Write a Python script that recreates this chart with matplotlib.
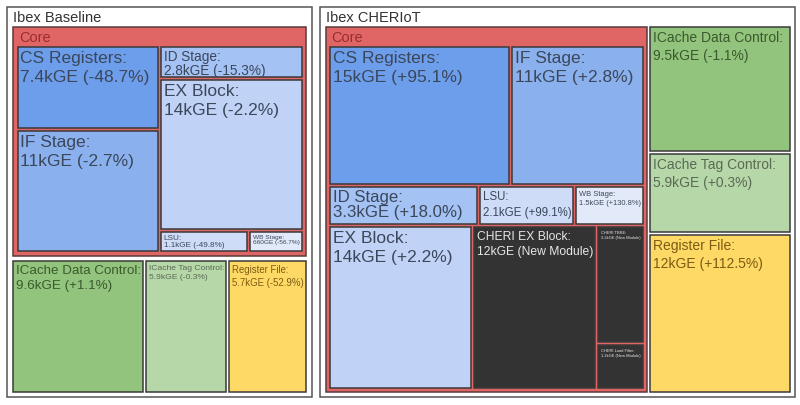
import matplotlib
matplotlib.use("Agg")
from matplotlib import pyplot as plt
from matplotlib.patches import Rectangle

plt.rcParams['font.family'] = ['Liberation Sans', 'DejaVu Sans']

# --- data (area in kGE, change vs. other design) ---
designs = ["Ibex Baseline", "Ibex CHERIoT"]

base_core_labels = ["CS Registers", "IF Stage", "ID Stage", "EX Block", "LSU", "WB Stage"]
base_core_values = [7.4, 11, 2.8, 14, 1.1, 0.66]
base_core_change = ["-48.7%", "-2.7%", "-15.3%", "-2.2%", "-49.8%", "-56.7%"]
base_other_labels = ["ICache Data Control", "ICache Tag Control", "Register File"]
base_other_values = [9.6, 5.9, 5.7]
base_other_change = ["+1.1%", "-0.3%", "-52.9%"]

cheri_core_labels = ["CS Registers", "IF Stage", "ID Stage", "LSU", "WB Stage",
                     "EX Block", "CHERI EX Block", "CHERI TBRE", "CHERI Load Filter"]
cheri_core_values = [15, 11, 3.3, 2.1, 1.5, 14, 12, 3.2, 1.2]
cheri_core_change = ["+95.1%", "+2.8%", "+18.0%", "+99.1%", "+130.8%", "+2.2%",
                     "New Module", "New Module", "New Module"]
cheri_other_labels = ["ICache Data Control", "ICache Tag Control", "Register File"]
cheri_other_values = [9.5, 5.9, 12]
cheri_other_change = ["-1.1%", "+0.3%", "+112.5%"]

# colours per module: (fill, text)
colors = {
    "CS Registers": ("#6d9eeb", "#3b475a"),
    "IF Stage": ("#8ab0ee", "#3b475a"),
    "ID Stage": ("#a4c2f4", "#3b475a"),
    "EX Block": ("#c0d3f6", "#3b475a"),
    "LSU": ("#cfdcf7", "#3b475a"),
    "WB Stage": ("#e2e9f9", "#3b475a"),
    "CHERI EX Block": ("#333333", "#e6e6e6"),
    "CHERI TBRE": ("#333333", "#e6e6e6"),
    "CHERI Load Filter": ("#333333", "#e6e6e6"),
    "ICache Data Control": ("#93c47d", "#3a5a2c"),
    "ICache Tag Control": ("#b6d7a8", "#5a6a55"),
    "Register File": ("#ffd966", "#7a5c12"),
}


def fmt_area(v):
    if v < 1:
        return "%.0fGE" % (v * 1000)
    if v < 10:
        return "%.1fkGE" % v
    return "%.0fkGE" % v


fig = plt.figure(figsize=(8, 4.06), dpi=100)
ax = fig.add_axes([0, 0, 1, 1])
ax.set_xlim(0, 800)
ax.set_ylim(406, 0)
ax.axis("off")
renderer = fig.canvas.get_renderer()


def node_value(node, values):
    if isinstance(node, int):
        return values[node]
    return sum(node_value(c, values) for c in node[1])


def layout(node, values, x, y, w, h, gap, out):
    # slice-and-dice layout, sizes proportional to the values
    if isinstance(node, int):
        out.append((node, x, y, w, h))
        return
    direction, children = node
    total = sum(node_value(c, values) for c in children)
    span = (w if direction == "h" else h) - gap * (len(children) - 1)
    pos = x if direction == "h" else y
    for c in children:
        size = span * node_value(c, values) / total
        if direction == "h":
            layout(c, values, pos, y, size, h, gap, out)
        else:
            layout(c, values, x, pos, w, size, gap, out)
        pos += size + gap


def fit_label(x, y, w, h, text, color, max_fs):
    t = ax.text(x + 3, y + 3, text, fontsize=10, color=color, va="top", ha="left",
                linespacing=1.35)
    bb = t.get_window_extent(renderer)
    fs = min(max_fs, 10 * (w - 5) / bb.width)
    if 10 * (h - 4) / bb.height < fs:
        # tight box: pack the two lines closer
        t.set_linespacing(1.05)
        t.set_y(y + 1.5)
        bb = t.get_window_extent(renderer)
        fs = min(fs, 10 * (h - 2) / bb.height)
    t.set_fontsize(fs)


def draw_leaves(rects, labels, values, changes, max_fs):
    for i, x, y, w, h in rects:
        fc, tc = colors[labels[i]]
        ax.add_patch(Rectangle((x, y), w, h, facecolor=fc, edgecolor="#3a3a3a", lw=1.1))
        fit_label(x, y, w, h, "%s:\n%s (%s)" % (labels[i], fmt_area(values[i]), changes[i]),
                  tc, max_fs)


def draw_core(x, y, w, h, core_layout, labels, values, changes):
    ax.add_patch(Rectangle((x, y), w, h, facecolor="#e06666", edgecolor="#5a3a3a", lw=1.1))
    ax.text(x + 6, y + 10, "Core", fontsize=10.5, color="#9a2e2e", va="center", ha="left")
    rects = []
    layout(core_layout, values, x + 4.5, y + 20, w - 9, h - 24.5, 3, rects)
    draw_leaves(rects, labels, values, changes, 12.5)


base_core_layout = ("h", [("v", [0, 1]), ("v", [2, 3, ("h", [4, 5])])])
cheri_core_layout = ("v", [("h", [0, 1]), ("h", [2, 3, 4]), ("h", [5, 6, ("v", [7, 8])])])

base_total = sum(base_core_values) + sum(base_other_values)
cheri_total = sum(cheri_core_values) + sum(cheri_other_values)

# split the figure between the two designs
left, top, right, bottom, dgap = 7, 8, 795, 398, 8
span = right - left - dgap
base_w = span * base_total / (base_total + cheri_total)
design_boxes = [(left, base_w), (left + base_w + dgap, span - base_w)]

for name, (dx, dw) in zip(designs, design_boxes):
    ax.add_patch(Rectangle((dx, top), dw, bottom - top, facecolor="white", edgecolor="#555555", lw=1.1))
    ax.text(dx + 6, top + 10, name, fontsize=10.5, color="#333333", va="center", ha="left")

# Ibex Baseline: core on top, other modules in a row below
dx, dw = design_boxes[0]
ix, iy, iw, ih = dx + 6, top + 20, dw - 11.5, bottom - top - 25
core_h = (ih - 5) * sum(base_core_values) / base_total
draw_core(ix, iy, iw, core_h, base_core_layout, base_core_labels, base_core_values, base_core_change)
rects = []
layout(("h", [0, 1, 2]), base_other_values, ix, iy + core_h + 5, iw, ih - core_h - 5, 3, rects)
draw_leaves(rects, base_other_labels, base_other_values, base_other_change, 10)

# Ibex CHERIoT: core on the left, other modules stacked on the right
dx, dw = design_boxes[1]
ix, iy, iw, ih = dx + 6, top + 20, dw - 11.5, bottom - top - 25
core_w = (iw - 3) * sum(cheri_core_values) / cheri_total
draw_core(ix, iy, core_w, ih, cheri_core_layout, cheri_core_labels, cheri_core_values, cheri_core_change)
rects = []
layout(("v", [0, 1, 2]), cheri_other_values, ix + core_w + 3, iy, iw - core_w - 3, ih, 3, rects)
draw_leaves(rects, cheri_other_labels, cheri_other_values, cheri_other_change, 10)

fig.savefig("out.png", dpi=100)
